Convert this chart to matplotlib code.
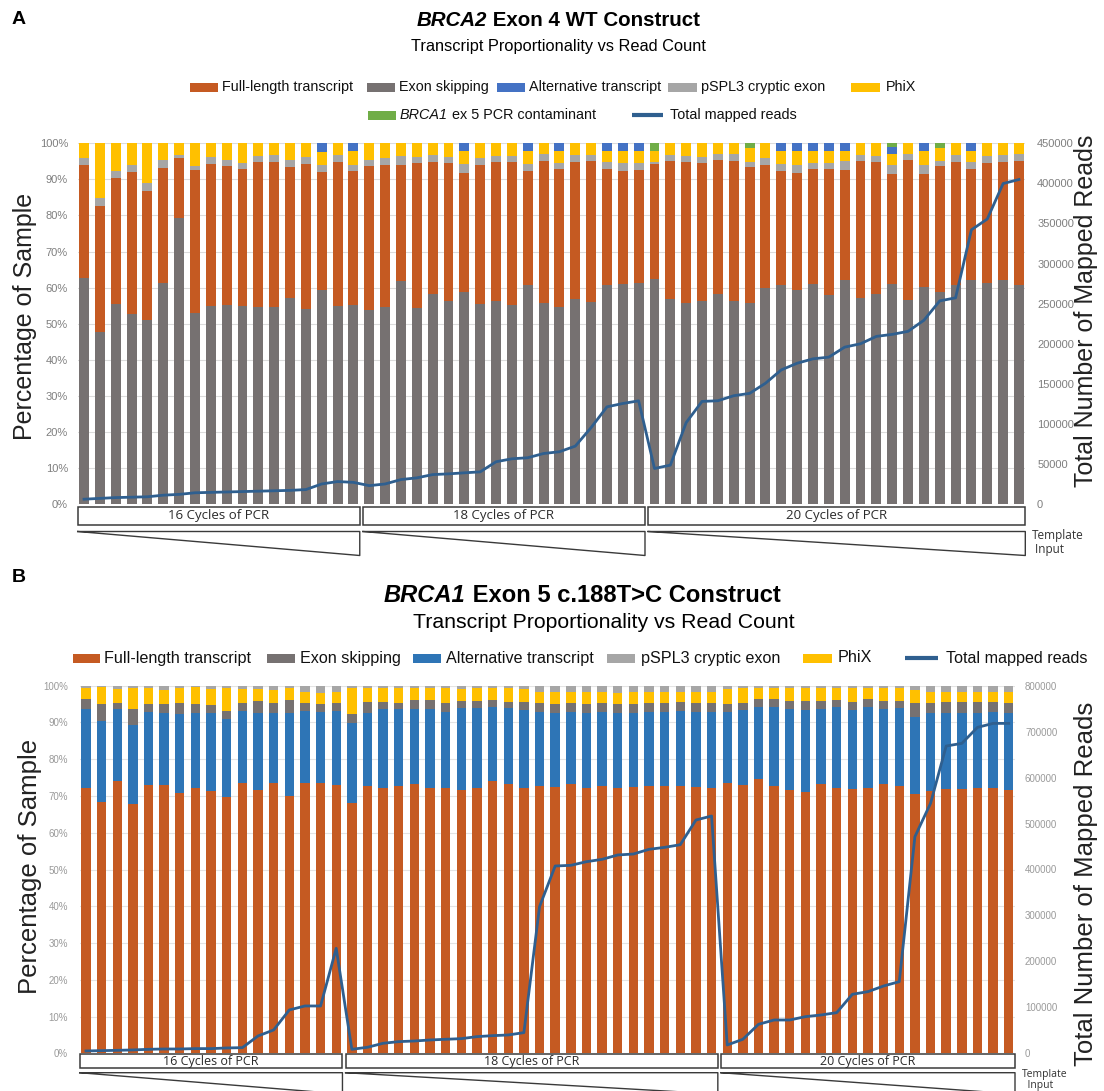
import numpy as np
import matplotlib
matplotlib.use('Agg')
import matplotlib.pyplot as plt
from matplotlib.patches import Rectangle
from matplotlib.lines import Line2D
from matplotlib.transforms import blended_transform_factory

W, H = 1104, 1091
SANS = ['Liberation Sans', 'DejaVu Sans']
BOXFONT = ['Open Sans', 'DejaVu Sans']
ORANGE, SKIP, ALT_A, ALT_B = '#c55a22', '#767171', '#4472c4', '#2e75b6'
PSPL3, PHIX, GREEN, LINE = '#a6a6a6', '#ffc000', '#70ad47', '#2f5f8f'

# ---- panel A: BRCA2 exon 4 WT (60 samples, % of sample) ----
a_groups = [18, 18, 24]
a_group_labels = ['16 Cycles of PCR', '18 Cycles of PCR', '20 Cycles of PCR']
a_skip = [62.6, 47.8, 55.5, 52.6, 51.1, 61.2, 79.2, 52.9, 54.8, 55.2, 54.8, 54.5, 54.5, 57.2, 54.1, 59.4, 55.0, 55.2,
          53.8, 54.6, 61.9, 54.3, 58.3, 56.3, 58.9, 55.5, 56.3, 55.2, 60.8, 55.7, 54.5, 56.9, 55.9, 60.7, 61.0, 61.2,
          62.4, 56.8, 55.7, 56.2, 58.2, 56.3, 55.6, 60.0, 60.6, 59.4, 60.9, 58.0, 62.1, 57.2, 58.2, 60.9, 56.6, 60.1,
          58.7, 60.8, 62.0, 61.4, 62.1, 60.8]
a_full = [31.5, 34.7, 34.9, 39.5, 35.8, 32.0, 16.6, 39.8, 39.5, 38.4, 38.0, 40.2, 40.4, 36.2, 40.2, 32.7, 39.9, 37.2,
          39.8, 39.5, 32.2, 40.2, 36.6, 38.2, 32.9, 38.6, 38.5, 39.6, 31.5, 39.5, 38.5, 38.0, 39.1, 32.1, 31.3, 31.3,
          31.8, 38.4, 39.1, 38.3, 37.2, 38.9, 37.7, 33.9, 31.7, 32.4, 31.9, 35.0, 30.6, 38.0, 36.6, 30.7, 38.8, 31.4,
          34.9, 34.1, 30.8, 33.2, 32.8, 34.2]
a_pspl3 = [1.8, 2.3, 1.8, 1.8, 2.0, 2.2, 0.9, 0.9, 1.8, 1.8, 1.8, 1.7, 1.8, 1.9, 1.8, 2.0, 1.8, 1.7,
           1.8, 1.8, 2.3, 1.6, 1.8, 1.6, 2.5, 1.7, 1.6, 1.6, 2.0, 1.8, 1.6, 1.8, 1.7, 2.1, 2.3, 2.1,
           0.7, 1.5, 1.6, 1.6, 1.6, 1.8, 1.5, 1.9, 2.0, 2.3, 1.8, 1.6, 2.3, 1.5, 1.6, 2.4, 1.6, 2.4,
           1.4, 1.8, 2.1, 1.8, 1.8, 2.0]
a_phix = [4.1, 15.2, 7.8, 6.1, 11.1, 4.6, 3.3, 6.4, 3.9, 4.6, 5.4, 3.6, 3.3, 4.7, 3.9, 3.5, 3.3, 3.7,
          4.6, 4.1, 3.6, 3.9, 3.3, 3.9, 3.5, 4.2, 3.6, 3.6, 3.5, 3.0, 3.2, 3.3, 3.3, 3.1, 3.4, 3.4,
          3.1, 3.3, 3.6, 3.9, 3.0, 3.0, 3.9, 4.2, 3.5, 3.7, 3.2, 3.2, 2.8, 3.3, 3.6, 3.1, 3.0, 4.1,
          3.7, 3.3, 3.1, 3.6, 3.3, 3.0]
a_alt = [0, 0, 0, 0, 0, 0, 0, 0, 0, 0, 0, 0, 0, 0, 0, 2.4, 0, 2.2,
         0, 0, 0, 0, 0, 0, 2.2, 0, 0, 0, 2.2, 0, 2.2, 0, 0, 2.0, 2.0, 2.0,
         0, 0, 0, 0, 0, 0, 0, 0, 2.2, 2.2, 2.2, 2.2, 2.2, 0, 0, 1.8, 0, 2.0,
         0, 0, 2.0, 0, 0, 0]
a_contam = [0, 0, 0, 0, 0, 0, 0, 0, 0, 0, 0, 0, 0, 0, 0, 0, 0, 0,
            0, 0, 0, 0, 0, 0, 0, 0, 0, 0, 0, 0, 0, 0, 0, 0, 0, 0,
            2.0, 0, 0, 0, 0, 0, 1.3, 0, 0, 0, 0, 0, 0, 0, 0, 1.1, 0, 0,
            1.3, 0, 0, 0, 0, 0]
a_reads = [6000, 7000, 8000, 8500, 9000, 11000, 12000, 14000, 14500, 15000, 15500, 16000, 16500, 17000, 18000,
           25000, 28000, 27000,
           22900, 25000, 30500, 32600, 36700, 37600, 38900, 40100, 52700, 56400, 57700, 63000, 65200, 72200,
           95300, 121200, 125400, 128700,
           44300, 48500, 101600, 128000, 128800, 135100, 138000, 150600, 167300, 175600, 181100, 183200,
           195700, 199900, 209100, 211600, 215400, 229200, 253400, 257200, 342100, 355500, 399800, 404800]

# ---- panel B: BRCA1 exon 5 c.188T>C ----
b_groups = [17, 24, 19]
b_group_labels = a_group_labels
b_full = [72.3, 68.4, 74.2, 67.7, 73.0, 73.0, 70.9, 72.3, 71.4, 69.6, 73.6, 71.6, 73.4, 70.0, 73.4, 73.4, 73.0,
          68.0, 72.7, 72.3, 72.8, 73.2, 72.1, 72.3, 71.6, 72.1, 74.2, 73.2, 72.1, 72.8, 72.5, 73.2, 72.3, 72.7,
          72.3, 72.5, 72.8, 72.8, 72.8, 72.5, 72.3,
          73.4, 73.0, 74.5, 72.7, 71.6, 71.0, 73.2, 72.3, 71.9, 72.3, 73.2, 72.8, 70.5, 71.4, 71.8, 71.9, 72.1,
          72.1, 71.6]
b_alt = [21.3, 22.1, 19.4, 21.6, 19.9, 19.7, 21.3, 20.4, 21.1, 21.3, 19.5, 20.9, 19.3, 22.5, 19.8, 19.4, 20.0,
         21.8, 20.0, 21.3, 20.8, 20.4, 21.5, 20.6, 22.2, 21.7, 19.9, 20.6, 21.3, 20.1, 20.0, 19.7, 20.2, 20.2,
         20.4, 20.2, 20.0, 20.1, 20.3, 20.3, 20.5,
         19.5, 20.4, 19.8, 21.6, 22.0, 22.4, 20.4, 21.8, 21.5, 22.0, 20.4, 21.0, 20.9, 21.1, 20.9, 20.8, 20.4,
         20.7, 20.9]
b_skip = [2.7, 4.5, 1.6, 4.4, 2.0, 2.3, 3.0, 2.2, 2.3, 2.2, 2.1, 3.4, 2.6, 3.6, 2.0, 2.2, 2.4,
          2.4, 2.8, 2.1, 1.8, 2.5, 2.4, 2.4, 2.0, 2.1, 2.0, 1.8, 2.3, 2.4, 2.5, 2.3, 2.5, 2.3,
          2.4, 2.3, 2.6, 2.4, 2.5, 2.6, 2.6,
          2.0, 1.8, 2.0, 2.0, 2.3, 2.5, 2.3, 2.0, 2.1, 2.0, 2.3, 2.1, 4.0, 2.9, 3.0, 3.0, 3.2, 2.7, 2.7]
b_phix = [3.0, 4.7, 3.9, 5.8, 4.4, 3.8, 4.1, 4.7, 4.4, 6.4, 3.9, 3.3, 3.4, 3.4, 3.0, 3.1, 2.8,
          7.3, 3.9, 3.6, 4.1, 3.4, 3.5, 4.1, 3.3, 3.5, 3.2, 3.8, 3.4, 3.0, 3.4, 3.2, 3.2, 3.2,
          3.0, 3.2, 3.0, 3.0, 2.7, 3.0, 3.0,
          4.1, 4.1, 3.0, 3.0, 3.4, 3.4, 3.4, 3.2, 3.8, 3.0, 3.4, 3.4, 3.4, 3.0, 2.7, 2.7, 2.7, 2.9, 3.0]
b_pspl3 = [0.7, 0.3, 0.9, 0.5, 0.7, 1.2, 0.7, 0.5, 0.9, 0.5, 0.9, 0.9, 1.2, 0.5, 1.8, 1.9, 1.8,
           0.5, 0.6, 0.7, 0.5, 0.5, 0.5, 0.5, 0.9, 0.5, 0.7, 0.5, 0.9, 1.6, 1.6, 1.6, 1.8, 1.6,
           1.8, 1.8, 1.6, 1.6, 1.6, 1.6, 1.6,
           1.0, 0.7, 0.7, 0.7, 0.7, 0.7, 0.7, 0.7, 0.7, 0.7, 0.7, 0.7, 1.2, 1.6, 1.6, 1.6, 1.6, 1.6, 1.8]
b_reads = [5100, 5800, 6500, 7300, 8700, 9400, 9400, 10200, 10200, 11600, 12300, 37700, 50800, 94300, 103000,
           103000, 228500,
           8700, 13100, 21800, 25400, 26800, 29000, 30500, 31900, 36300, 38400, 39900, 45000, 319100, 407600,
           409100, 417000, 422100, 431600, 433700, 443900, 448200, 454000, 507700, 516400,
           18100, 30500, 63100, 72500, 72500, 79800, 83400, 88500, 128400, 134200, 146500, 155900, 471400,
           544000, 668700, 674500, 709300, 718000, 718000]

plt.rcParams['font.family'] = SANS
fig = plt.figure(figsize=(W / 100, H / 100), dpi=100)
fig.patch.set_facecolor('white')
renderer = fig.canvas.get_renderer()


def fy(y):
    return 1 - y / H


def axes_px(x0, y0, x1, y1):
    return fig.add_axes([x0 / W, 1 - y1 / H, (x1 - x0) / W, (y1 - y0) / H])


def rich(x, y, parts, size, center=False):
    """place text pieces with different styles side by side (px coords)"""
    items = []
    for s, style in parts:
        t = fig.text(0, fy(y), s, fontsize=size, va='center', ha='left', **style)
        items.append((t, t.get_window_extent(renderer).width))
    pos = x - sum(w for _, w in items) / 2 if center else x
    for t, w in items:
        t.set_x(pos / W)
        pos += w


def key_patch(x0, x1, y, color, h=9):
    fig.add_artist(Rectangle((x0 / W, fy(y + h / 2)), (x1 - x0) / W, h / H,
                             transform=fig.transFigure, color=color, lw=0))


def key_line(x0, x1, y, lw=3):
    fig.add_artist(Line2D([x0 / W, x1 / W], [fy(y), fy(y)], transform=fig.transFigure,
                          color=LINE, lw=lw, solid_capstyle='butt'))


def key_text(x, y, s, size):
    fig.text(x / W, fy(y), s, fontsize=size, va='center', color='#111111')


def bars(ax, stack, width):
    x = np.arange(len(stack[0][0]))
    bottom = np.zeros(len(x))
    for vals, color in stack:
        ax.bar(x, vals, width, bottom=bottom, color=color, linewidth=0, zorder=2)
        bottom += np.asarray(vals)


def axis_style(ax, ax2, reads, rmax, rstep, fs, tcol, lpad, rpad, grid):
    ax.set_xlim(-0.4, 59.4)
    ax.set_ylim(0, 100)
    ax.set_xticks([])
    ax.set_yticks(range(0, 101, 10))
    ax.set_yticklabels([f'{v}%' for v in range(0, 101, 10)])
    ax.tick_params(axis='y', length=0, labelsize=fs, labelcolor=tcol, pad=lpad)
    ax.grid(axis='y', color=grid, lw=0.8, zorder=0)
    ax.set_axisbelow(True)
    ax2.plot(np.arange(len(reads)), reads, color=LINE, lw=2.0, zorder=3)
    ax2.set_ylim(0, rmax)
    ax2.set_yticks(range(0, rmax + 1, rstep))
    ax2.tick_params(axis='y', length=0, labelsize=fs, labelcolor=tcol, pad=rpad)
    for a in (ax, ax2):
        for s in a.spines.values():
            s.set_visible(False)


def group_boxes(ax, sizes, labels, by0, by1, wy0, wy1, fs):
    tr = blended_transform_factory(ax.transData, fig.transFigure)
    start = 0
    for n, lab in zip(sizes, labels):
        L, R = start - 0.4, start + n - 1 + 0.4
        ax.add_artist(Rectangle((L, fy(by1)), R - L, fy(by0) - fy(by1), transform=tr, fill=False,
                                ec='#3a3a3a', lw=1.1, clip_on=False))
        ax.text((L + R) / 2, fy((by0 + by1) / 2), lab, transform=tr, ha='center', va='center',
                fontsize=fs, family=BOXFONT, color='#2a2a2a', clip_on=False)
        ax.add_artist(Line2D([L, R, R, L], [fy(wy0), fy(wy0), fy(wy1), fy(wy0)], transform=tr,
                             color='#3a3a3a', lw=1.0, clip_on=False))
        start += n


# ================= Panel A =================
fig.text(12 / W, fy(20), 'A', fontsize=14, fontweight='bold', va='center')
rich(558, 20, [('BRCA2', dict(fontweight='bold', style='italic')),
               (' Exon 4 WT Construct', dict(fontweight='bold'))], 14.8, center=True)
fig.text(558 / W, fy(47), 'Transcript Proportionality vs Read Count', fontsize=11.8, ha='center', va='center')

LEG_A = 10.4
key_patch(190, 218, 87, ORANGE); key_text(222, 87, 'Full-length transcript', LEG_A)
key_patch(367, 395, 87, SKIP); key_text(399, 87, 'Exon skipping', LEG_A)
key_patch(497, 525, 87, ALT_A); key_text(529, 87, 'Alternative transcript', LEG_A)
key_patch(668, 697, 87, PSPL3); key_text(701, 87, 'pSPL3 cryptic exon', LEG_A)
key_patch(851, 880, 87, PHIX); key_text(886, 87, 'PhiX', LEG_A)
key_patch(368, 396, 115, GREEN)
rich(400, 115, [('BRCA1', dict(style='italic', color='#111111')),
                (' ex 5 PCR contaminant', dict(color='#111111'))], LEG_A)
key_line(632, 663, 115)
key_text(670, 115, 'Total mapped reads', LEG_A)

axA = axes_px(77.7, 143.3, 1025.3, 504)
axA2 = axA.twinx()
bars(axA, [(a_skip, SKIP), (a_full, ORANGE), (a_pspl3, PSPL3), (a_phix, PHIX),
           (a_alt, ALT_A), (a_contam, GREEN)], 0.63)
axis_style(axA, axA2, a_reads, 450000, 50000, 8, '#7f7f7f', 7, 8.5, '#dcdcdc')
fig.text(25 / W, fy(316), 'Percentage of Sample', fontsize=18, rotation=90, ha='center', va='center', color='#222222')
fig.text(1086 / W, fy(311), 'Total Number of Mapped Reads', fontsize=18, rotation=90, ha='center', va='center',
         color='#222222')
group_boxes(axA, a_groups, a_group_labels, 507, 524.5, 531.5, 555.5, 9.5)
fig.text(1032 / W, fy(529), 'Template\n Input', fontsize=8.5, family=BOXFONT, va='top', ha='left',
         linespacing=1.1, color='#333333')

# ================= Panel B =================
fig.text(12 / W, fy(577), 'B', fontsize=14, fontweight='bold', va='center')
rich(582, 596, [('BRCA1', dict(fontweight='bold', style='italic')),
                (' Exon 5 c.188T>C Construct', dict(fontweight='bold'))], 17.1, center=True)
fig.text(604 / W, fy(622), 'Transcript Proportionality vs Read Count', fontsize=15.3, ha='center', va='center')

LEG_B = 11.6
key_patch(73, 100, 658, ORANGE); key_text(104, 658, 'Full-length transcript', LEG_B)
key_patch(267, 295, 658, SKIP); key_text(300, 658, 'Exon skipping', LEG_B)
key_patch(413, 441, 658, ALT_B); key_text(446, 658, 'Alternative transcript', LEG_B)
key_patch(607, 635, 658, PSPL3); key_text(641, 658, 'pSPL3 cryptic exon', LEG_B)
key_patch(803, 832, 658, PHIX); key_text(838, 658, 'PhiX', LEG_B)
key_line(905, 938, 658)
key_text(946, 658, 'Total mapped reads', LEG_B)

axB = axes_px(79.7, 685.7, 1015, 1053.3)
axB2 = axB.twinx()
bars(axB, [(b_full, ORANGE), (b_alt, ALT_B), (b_skip, SKIP), (b_phix, PHIX), (b_pspl3, PSPL3)], 0.6)
axis_style(axB, axB2, b_reads, 800000, 100000, 7, '#9a9a9a', 8.4, 7.2, '#e4e4e4')
fig.text(30 / W, fy(866), 'Percentage of Sample', fontsize=18.5, rotation=90, ha='center', va='center', color='#222222')
fig.text(1086 / W, fy(884), 'Total Number of Mapped Reads', fontsize=18.5, rotation=90, ha='center', va='center',
         color='#222222')
group_boxes(axB, b_groups, b_group_labels, 1054.3, 1067.7, 1072.7, 1094, 9)
fig.text(1022 / W, fy(1069), 'Template\n  Input', fontsize=7.5, family=BOXFONT, va='top', ha='left',
         linespacing=0.95, color='#333333')

fig.savefig('out.png', dpi=100, facecolor='white')
